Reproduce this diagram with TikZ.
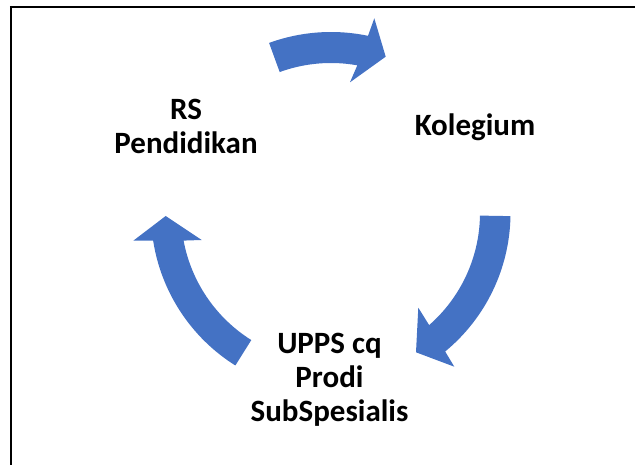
\documentclass[tikz,border=0pt]{standalone}
\usepackage{fontspec}
\setmainfont{Carlito}
\usetikzlibrary{calc}
\definecolor{officeblue}{HTML}{4472C4}
\tikzset{
  cyclearrow/.style={fill=officeblue,draw=none},
  label/.style={font=\fontsize{31}{34}\selectfont\bfseries,align=center,anchor=base,inner sep=0pt},
  frameline/.style={draw=black,line width=2.2pt}
}
\begin{document}
\begin{tikzpicture}[x=1pt,y=1pt]
\useasboundingbox (0,0) rectangle (635,464);
\coordinate (c) at (331,251);
% frame (only left and top edges are visible)
\draw[frameline] (11,458) -- (11,-5);
\draw[frameline] (9.9,457) -- (640,457);
% top arrow
\fill[cyclearrow] ($(c)+(110:181)$) arc[start angle=110,end angle=78.2,radius=181]
  -- (374.3,445.7) -- (385.7,407.3) -- (350,381.7)
  -- ($(c)+(79.9:150)$) arc[start angle=79.9,end angle=110,radius=150] -- cycle;
% right arrow
\fill[cyclearrow] ($(c)+(-1:179.5)$) arc[start angle=-1,end angle=-50.5,radius=179.5]
  -- (454.3,97.3) -- (416,111.7) -- (418.3,156.3)
  -- ($(c)+(-48.8:149)$) arc[start angle=-48.8,end angle=-1,radius=149] -- cycle;
% left arrow
\fill[cyclearrow] ($(c)+(237.9:180)$) arc[start angle=237.9,end angle=188.8,radius=180]
  -- (133.3,223.3) -- (165.7,248) -- (201.7,224)
  -- ($(c)+(190.6:150)$) arc[start angle=190.6,end angle=237.9,radius=150] -- cycle;
% labels (base = baseline of the last line)
\node[label] (rs) at (186,310) {RS\\Pendidikan};
\node[label] (kol) at (475,328) {Kolegium};
\node[label] (upps) at (329.5,42.3) {UPPS cq\\Prodi\\SubSpesialis};
\end{tikzpicture}
\end{document}
